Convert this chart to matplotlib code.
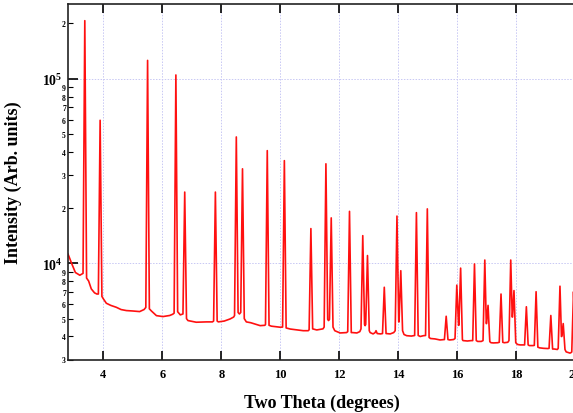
import numpy as np
import matplotlib.pyplot as plt
from matplotlib.ticker import FixedLocator, FixedFormatter

plt.rcParams['font.family'] = 'Liberation Serif'
plt.rcParams['font.weight'] = 'bold'
plt.rcParams['mathtext.fontset'] = 'custom'
plt.rcParams['mathtext.rm'] = 'Liberation Serif:bold'
plt.rcParams['mathtext.bf'] = 'Liberation Serif:bold'

# background points (two theta, counts)
bg_x = [2.80, 2.84, 2.92, 3.05, 3.20, 3.50, 3.59, 3.70, 3.78, 4.00, 4.10, 4.25,
        4.44, 4.60, 4.78, 5.00, 5.23, 5.38, 5.63, 5.80, 6.02, 6.25, 6.35, 6.61,
        6.87, 7.15, 7.50, 7.70, 7.90, 8.10, 8.30, 8.42, 8.615, 8.85, 9.00, 9.32,
        9.48, 9.70, 10.00, 10.34, 10.78, 10.95, 11.24, 11.45, 11.64, 11.85, 12.03,
        12.25, 12.45, 12.60, 12.70, 12.88, 13.05, 13.15, 13.22, 13.25, 13.29, 13.40,
        13.73, 13.85, 14.20, 14.29, 14.45, 14.75, 14.86, 15.10, 15.25, 15.42, 15.55,
        15.75, 15.88, 16.20, 16.35, 16.48, 16.70, 16.82, 17.15, 17.23, 17.38, 17.60,
        17.72, 18.05, 18.14, 18.25, 18.45, 18.58, 18.80, 18.93, 19.08, 19.30, 19.40,
        19.70, 19.83, 19.88]
bg_y = [11200, 10800, 10000, 8900, 8600, 8000, 7250, 6900, 6800, 6400, 6060, 5900,
        5760, 5600, 5530, 5500, 5460, 5600, 5500, 5190, 5130, 5200, 5280, 5240,
        4880, 4780, 4800, 4800, 4800, 4850, 4980, 5100, 5300, 4800, 4750, 4580,
        4600, 4550, 4490, 4390, 4300, 4300, 4340, 4400, 4880, 4300, 4180,
        4200, 4200, 4180, 4250, 4580, 4200, 4130, 4200, 4300, 4150, 4130,
        4130, 4200, 4100, 4040, 4020, 4000, 4040, 3900, 3880, 3830, 3850,
        3830, 3850, 3800, 3780, 3800, 3760, 3760, 3700, 3690, 3700, 3700,
        3720, 3620, 3600, 3600, 3570, 3570, 3470, 3450, 3440, 3420, 3400,
        3300, 3250, 3280]

# reflections: position, peak top, level at left and right foot
peak_pos = [3.37, 3.89, 5.50, 6.46, 6.76, 7.80, 8.51, 8.72, 9.56, 10.14, 11.04,
            11.55, 11.73, 12.35, 12.80, 12.96, 13.53, 13.96, 14.09, 14.62, 14.99,
            15.63, 15.99, 16.12, 16.59, 16.94, 17.05, 17.49, 17.82, 17.93, 18.35,
            18.68, 19.18, 19.49, 19.60, 19.95]
peak_top = [207000, 59600, 126000, 105000, 24300, 24300, 48400, 32500, 40800, 36000,
            15400, 34600, 17600, 19100, 14100, 11000, 7400, 18000, 9100, 18800, 19700,
            5150, 7600, 9400, 9900, 10400, 5900, 6800, 10400, 7100, 5800,
            7000, 5200, 7500, 4700, 7000]
peak_left = [8800, 6800, 5750, 5350, 5300, 4850, 5200, 5400, 4650, 4500, 4350,
             4500, 4950, 4250, 4400, 4650, 4150, 4300, 4800, 4050, 4050,
             3850, 3900, 4600, 3800, 3800, 4700, 3720, 3800, 5100, 3600,
             3580, 3450, 3450, 4000, 3300]
peak_right = [8300, 6600, 5650, 5450, 5000, 4850, 5400, 5000, 4600, 4450, 4400,
              4950, 4500, 4200, 4650, 4300, 4150, 4800, 4300, 4050, 3950,
              3850, 4600, 3850, 3800, 4700, 3750, 3720, 5100, 3700, 3600,
              3500, 3420, 4000, 3400, 4000]

x_ticks = [4, 6, 8, 10, 12, 14, 16, 18, 20]
y_major = [1e4, 1e5]
y_major_labels = ['$\\mathbf{10^{4}}$', '$\\mathbf{10^{5}}$']
y_minor = [3e3, 4e3, 5e3, 6e3, 7e3, 8e3, 9e3,
           2e4, 3e4, 4e4, 5e4, 6e4, 7e4, 8e4, 9e4, 2e5]
y_minor_labels = ['3', '4', '5', '6', '7', '8', '9',
                  '2', '3', '4', '5', '6', '7', '8', '9', '2']

# join background and peak points into one trace
hw = 0.06
pk = np.array(peak_pos)
x = np.concatenate([bg_x, pk - hw, pk, pk + hw])
y = np.concatenate([bg_y, peak_left, peak_top, peak_right])
order = np.argsort(x, kind='stable')

fig = plt.figure(figsize=(5.73, 4.14), dpi=100)
ax = fig.add_axes([68 / 573, 53.5 / 414, (575 - 68) / 573, (360.5 - 5) / 414])

ax.plot(x[order], y[order], color='#ff1010', lw=1.2, solid_joinstyle='round')

ax.set_yscale('log')
ax.set_xlim(2.8, 20)
ax.set_ylim(3000, 255000)

ax.xaxis.set_major_locator(FixedLocator(x_ticks))
ax.yaxis.set_major_locator(FixedLocator(y_major))
ax.yaxis.set_major_formatter(FixedFormatter(y_major_labels))
ax.yaxis.set_minor_locator(FixedLocator(y_minor))
ax.yaxis.set_minor_formatter(FixedFormatter(y_minor_labels))

ax.grid(True, which='major', color='#c8c8f4', linestyle=(0, (1.5, 1.5)), lw=0.7)

ax.tick_params(axis='x', which='major', direction='in', top=True, length=6.5,
               width=1.2, pad=6, labelsize=9)
ax.tick_params(axis='x', which='minor', bottom=False, top=False)
ax.tick_params(axis='y', which='major', direction='in', length=7, width=1.2,
               pad=4, labelsize=10)
ax.tick_params(axis='y', which='minor', direction='in', length=3.5, width=0.8,
               pad=1.5, labelsize=5.5)

for s in ax.spines.values():
    s.set_linewidth(1.2)
    s.set_color('#222222')

ax.set_xlabel('Two Theta (degrees)', fontsize=13, fontweight='bold', labelpad=10)
ax.set_ylabel('Intensity (Arb. units)', fontsize=13, fontweight='bold')
ax.yaxis.set_label_coords(-0.091, 0.5)

fig.savefig('out.png', dpi=100)
